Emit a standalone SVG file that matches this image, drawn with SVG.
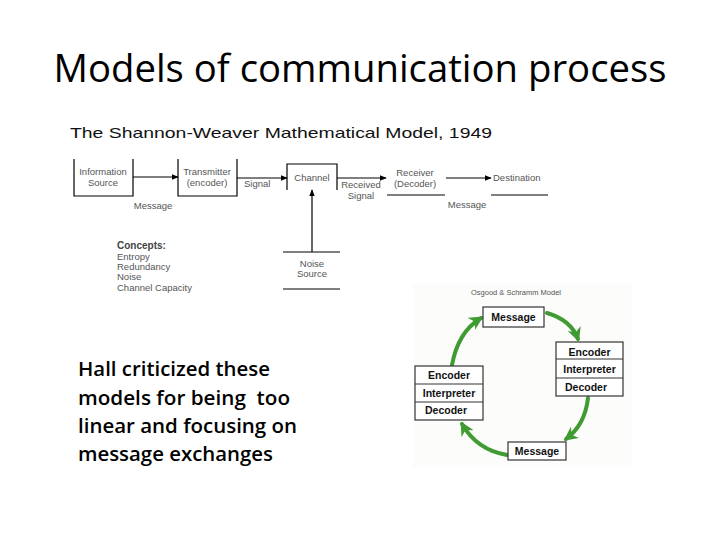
<svg xmlns="http://www.w3.org/2000/svg" width="720" height="540" viewBox="0 0 720 540">
<defs>
<style>
.t{font-family:"Liberation Sans",Arial,sans-serif;fill:#333;}
.sw{font-size:9.5px;fill:#555;}
.ln{stroke:#000;stroke-width:1.2;fill:none;}
.box{fill:#fff;stroke:#333;stroke-width:1.2;}
.ob{font-family:"Liberation Sans",Arial,sans-serif;font-weight:bold;font-size:10.5px;fill:#111;text-anchor:middle;}
.g{stroke:#3f9b32;stroke-width:4;fill:none;stroke-linecap:round;}
</style>
<marker id="ah" viewBox="0 0 10 10" refX="9" refY="5" markerWidth="7" markerHeight="7" markerUnits="userSpaceOnUse" orient="auto"><path d="M0,1 L10,5 L0,9 Z" fill="#000"/></marker>
<marker id="gh" viewBox="0 0 10 10" refX="8" refY="5" markerWidth="14" markerHeight="14" markerUnits="userSpaceOnUse" orient="auto"><path d="M0,0 L10,5 L0,10 L3,5 Z" fill="#3f9b32"/></marker>
</defs>
<rect width="720" height="540" fill="#fff"/>
<text x="360" y="82" font-family="'Open Sans','Liberation Sans',sans-serif" font-size="38" fill="#000" text-anchor="middle" textLength="613" lengthAdjust="spacingAndGlyphs">Models of communication process</text>

<g id="shannon-title"><text x="70" y="138" class="t" font-size="15" textLength="422" lengthAdjust="spacingAndGlyphs" style="fill:#111">The Shannon-Weaver Mathematical Model, 1949</text></g>

<g id="info-source">
<path class="ln" d="M74,159 V196 H133 V159"/>
<text class="t sw" x="103" y="175" text-anchor="middle">Information</text>
<text class="t sw" x="103" y="186" text-anchor="middle">Source</text>
</g>
<g id="transmitter">
<path class="ln" d="M178,159 V196 H237 V159"/>
<text class="t sw" x="207" y="175" text-anchor="middle">Transmitter</text>
<text class="t sw" x="207" y="186" text-anchor="middle">(encoder)</text>
</g>
<g id="channel">
<path class="ln" d="M287,190 V164 H337 V190"/>
<text class="t sw" x="312" y="181" text-anchor="middle">Channel</text>
</g>
<g id="receiver">
<text class="t sw" x="415" y="176" text-anchor="middle">Receiver</text>
<text class="t sw" x="415" y="187" text-anchor="middle">(Decoder)</text>
</g>
<g id="destination">
<text class="t sw" x="493" y="181">Destination</text>
</g>
<g id="noise-source">
<path class="ln" d="M283,252 H340 M283,289 H340"/>
<text class="t sw" x="312" y="267" text-anchor="middle">Noise</text>
<text class="t sw" x="312" y="277" text-anchor="middle">Source</text>
</g>
<g id="concepts">
<text class="t" x="117" y="249" font-size="10" font-weight="bold" style="fill:#444">Concepts:</text>
<text class="t sw" x="117" y="260">Entropy</text>
<text class="t sw" x="117" y="270">Redundancy</text>
<text class="t sw" x="117" y="280">Noise</text>
<text class="t sw" x="117" y="291">Channel Capacity</text>
</g>
<g id="shannon-connectors">
<line class="ln" x1="133" y1="177" x2="178" y2="177" marker-end="url(#ah)"/>
<text class="t sw" x="153" y="209" text-anchor="middle">Message</text>
<line class="ln" x1="237" y1="178" x2="287" y2="178" marker-end="url(#ah)"/>
<text class="t sw" x="244" y="187">Signal</text>
<line class="ln" x1="337" y1="178" x2="386" y2="178" marker-end="url(#ah)"/>
<text class="t sw" x="361" y="188" text-anchor="middle">Received</text>
<text class="t sw" x="361" y="199" text-anchor="middle">Signal</text>
<line class="ln" x1="446" y1="178" x2="491" y2="178" marker-end="url(#ah)"/>
<line class="ln" x1="312" y1="252" x2="312" y2="190" marker-end="url(#ah)"/>
<path class="ln" d="M387,195 H445 M491,195 H548"/>
<text class="t sw" x="467" y="208" text-anchor="middle">Message</text>
</g>

<g id="osgood-schramm">
<rect x="413" y="284" width="219" height="183" fill="#fcfcfa"/>
<text x="516" y="295" font-family="'Liberation Sans',Arial,sans-serif" font-size="7.5" fill="#555" text-anchor="middle">Osgood &amp; Schramm Model</text>
</g>
<g id="os-connectors">
<path class="g" d="M547,313 Q571,320 578,339" marker-end="url(#gh)"/>
<path class="g" d="M588,398 Q585,425 566,439" marker-end="url(#gh)"/>
<path class="g" d="M507,455 Q477,450 462,424" marker-end="url(#gh)"/>
<path class="g" d="M452,365 Q458,332 481,318" marker-end="url(#gh)"/>
</g>
<g id="msg-top">
<rect class="box" x="483" y="307" width="61" height="20"/>
<text class="ob" x="513.5" y="321">Message</text>
</g>
<g id="stack-right">
<rect class="box" x="556" y="342" width="67" height="54"/>
<path d="M556,359 H623 M556,378 H623" stroke="#333" stroke-width="1"/>
<text class="ob" x="589.5" y="356">Encoder</text>
<text class="ob" x="589.5" y="373">Interpreter</text>
<text class="ob" x="586" y="391">Decoder</text>
</g>
<g id="stack-left">
<rect class="box" x="415" y="366" width="68" height="54"/>
<path d="M415,384 H483 M415,402 H483" stroke="#333" stroke-width="1"/>
<text class="ob" x="449" y="379">Encoder</text>
<text class="ob" x="449" y="397">Interpreter</text>
<text class="ob" x="446" y="414">Decoder</text>
</g>
<g id="msg-bottom">
<rect class="box" x="508" y="442" width="58" height="18"/>
<text class="ob" x="537" y="455">Message</text>
</g>

<g id="hall-text" font-family="'Open Sans','Liberation Sans',sans-serif" font-weight="600" font-size="19" fill="#000">
<text x="78" y="376" textLength="192" lengthAdjust="spacingAndGlyphs">Hall criticized these</text>
<text x="78" y="405" textLength="212" lengthAdjust="spacingAndGlyphs" xml:space="preserve">models for being  too</text>
<text x="78" y="433" textLength="219" lengthAdjust="spacingAndGlyphs">linear and focusing on</text>
<text x="78" y="461" textLength="195" lengthAdjust="spacingAndGlyphs">message exchanges</text>
</g>
</svg>
